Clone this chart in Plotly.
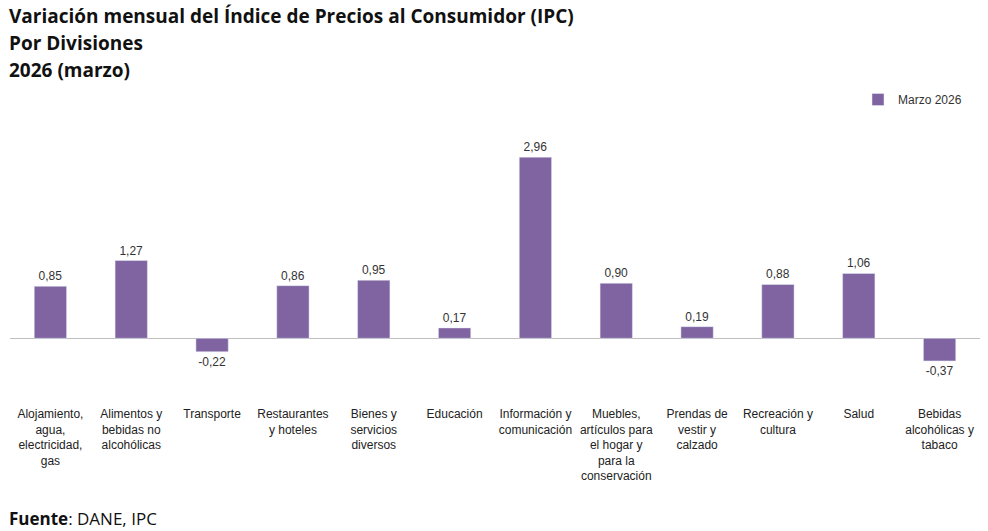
import plotly.graph_objects as go

divisiones = [
    "Alojamiento,<br>agua,<br>electricidad,<br>gas",
    "Alimentos y<br>bebidas no<br>alcohólicas",
    "Transporte",
    "Restaurantes<br>y hoteles",
    "Bienes y<br>servicios<br>diversos",
    "Educación",
    "Información y<br>comunicación",
    "Muebles,<br>artículos para<br>el hogar y<br>para la<br>conservación",
    "Prendas de<br>vestir y<br>calzado",
    "Recreación y<br>cultura",
    "Salud",
    "Bebidas<br>alcohólicas y<br>tabaco",
]
marzo_2026 = [0.85, 1.27, -0.22, 0.86, 0.95, 0.17, 2.96, 0.90, 0.19, 0.88, 1.06, -0.37]
etiquetas = [f"{v:.2f}".replace(".", ",") for v in marzo_2026]

W, H = 988, 531
TOP, BOTTOM = 110, 405
LEFT, RIGHT = 10, 980


def py(y_px):
    # pixel row -> paper coordinate
    return (BOTTOM - y_px) / (BOTTOM - TOP)


def px_(x_px):
    return (x_px - LEFT) / (RIGHT - LEFT)


fig = go.Figure()
fig.add_trace(go.Bar(
    x=divisiones,
    y=marzo_2026,
    name="Marzo 2026",
    marker=dict(color="#8064A2"),
    width=0.4,
    text=etiquetas,
    textposition="outside",
    textfont=dict(family="Liberation Sans, Arial", size=12, color="#333333"),
    cliponaxis=False,
    showlegend=True,
))

fig.update_layout(
    width=W, height=H,
    margin=dict(l=LEFT, r=W - RIGHT, t=TOP, b=H - BOTTOM),
    paper_bgcolor="white",
    plot_bgcolor="white",
    font=dict(family="Liberation Sans, Arial", size=12, color="#222222"),
    showlegend=True,
    legend=dict(x=px_(858), xanchor="left", y=py(85), yanchor="top",
                font=dict(size=12, color="#333333"),
                bgcolor="rgba(0,0,0,0)", itemwidth=30),
    bargap=0.6,
)
fig.update_xaxes(showline=False, showgrid=False, ticks="",
                 tickfont=dict(size=12, color="#222222"), ticklabelstandoff=0)
fig.update_yaxes(range=[-1.09, 3.73], showgrid=False, showticklabels=False,
                 zeroline=True, zerolinecolor="#BFBFBF", zerolinewidth=1)

titulo = ["Variación mensual del Índice de Precios al Consumidor (IPC)",
          "Por Divisiones",
          "2026 (marzo)"]
for i, linea in enumerate(titulo):
    fig.add_annotation(text=f"<b>{linea}</b>", xref="paper", yref="paper",
                       x=px_(7), xanchor="left", y=py(16 + 27 * i), yanchor="middle",
                       showarrow=False,
                       font=dict(family="Open Sans", size=19, color="#111111"))

fig.add_annotation(text="<b>Fuente</b>: DANE, IPC", xref="paper", yref="paper",
                   x=px_(7), xanchor="left", y=py(518), yanchor="middle",
                   showarrow=False,
                   font=dict(family="Open Sans", size=17, color="#111111"))

fig.write_html("out.html", config={"displayModeBar": False},
               post_script="document.body.style.margin='0';")
